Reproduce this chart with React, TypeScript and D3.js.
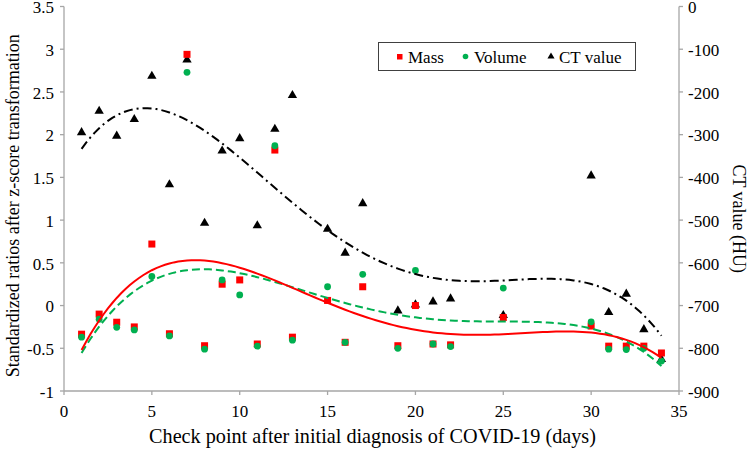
import React from 'react';
import * as d3 from 'd3';

const days = [1, 2, 3, 4, 5, 6, 7, 8, 9, 10, 11, 12, 13, 15, 16, 17, 19, 20, 21, 22, 25, 30, 31, 32, 33, 34];
const mass = [-0.335, -0.1, -0.195, -0.25, 0.72, -0.33, 2.94, -0.47, 0.25, 0.3, -0.45, 1.82, -0.37, 0.06, -0.43, 0.22, -0.47, 0.0, -0.45, -0.46, -0.14, -0.24, -0.475, -0.475, -0.475, -0.555];
const volume = [-0.37, -0.16, -0.255, -0.285, 0.34, -0.355, 2.73, -0.51, 0.3, 0.125, -0.475, 1.87, -0.405, 0.22, -0.43, 0.365, -0.5, 0.41, -0.45, -0.48, 0.205, -0.19, -0.51, -0.515, -0.5, -0.65];
const ctValue = [-295, -245, -303, -264, -163, -417, -125, -507, -338, -309, -513, -287, -208, -521, -577, -461, -712, -698, -691, -684, -723, -396, -716, -673, -756, -826];

const xTicks = [0, 5, 10, 15, 20, 25, 30, 35];
const leftTicks = [-1, -0.5, 0, 0.5, 1, 1.5, 2, 2.5, 3, 3.5];
const rightTicks = [-900, -800, -700, -600, -500, -400, -300, -200, -100, 0];

const FONT = '"Liberation Serif", "Times New Roman", serif';
const RED = '#ff0000';
const GREEN = '#00b050';
const AXIS = '#a6a6a6';

// least squares polynomial (same as an Excel trendline)
function polyFit(xs: number[], ys: number[], deg: number) {
  const n = deg + 1;
  const s = 34;
  const A: number[][] = Array.from({ length: n }, () => new Array(n + 1).fill(0));
  xs.forEach((xv, k) => {
    const x = xv / s;
    for (let i = 0; i < n; i++) {
      for (let j = 0; j < n; j++) A[i][j] += Math.pow(x, i + j);
      A[i][n] += ys[k] * Math.pow(x, i);
    }
  });
  for (let c = 0; c < n; c++) {
    let p = c;
    for (let r = c + 1; r < n; r++) if (Math.abs(A[r][c]) > Math.abs(A[p][c])) p = r;
    [A[c], A[p]] = [A[p], A[c]];
    for (let r = 0; r < n; r++) {
      if (r === c) continue;
      const f = A[r][c] / A[c][c];
      for (let k = c; k <= n; k++) A[r][k] -= f * A[c][k];
    }
  }
  const coef = A.map((row, i) => row[n] / row[i]);
  return (xv: number) => coef.reduce((acc, c, i) => acc + c * Math.pow(xv / s, i), 0);
}

const App = () => {
  const width = 750;
  const height = 449;
  const left = 64, right = 679, top = 6.5, bottom = 391;

  const x = d3.scaleLinear().domain([0, 35]).range([left, right]);
  const y = d3.scaleLinear().domain([-1, 3.5]).range([bottom, top]);
  const y2 = d3.scaleLinear().domain([-900, 0]).range([bottom, top]);

  const deg = 4;
  const fitMass = polyFit(days, mass, deg);
  const fitVol = polyFit(days, volume, deg);
  const fitCt = polyFit(days, ctValue, deg);
  const grid = d3.range(1, 34.001, 0.25);

  const lineL = d3.line<number>().x(d => x(d)).y(d => y(fitMass(d)));
  const lineV = d3.line<number>().x(d => x(d)).y(d => y(fitVol(d)));
  const lineC = d3.line<number>().x(d => x(d)).y(d => y2(fitCt(d)));

  const tri = d3.symbol().type(d3.symbolTriangle).size(38)();

  return (
    <svg width={width} height={height} style={{ position: 'absolute', left: 0, top: 0, background: '#fff' }} fontFamily={FONT}>
      <rect width={width} height={height} fill="#fff" />

      {/* axes */}
      <g stroke={AXIS} strokeWidth={1.3} fill="none">
        <line x1={left} x2={left} y1={top} y2={bottom} />
        <line x1={right} x2={right} y1={top} y2={bottom} />
        <line x1={left} x2={right} y1={bottom} y2={bottom} />
        {leftTicks.map(t => <line key={'l' + t} x1={left - 4} x2={left} y1={y(t)} y2={y(t)} />)}
        {rightTicks.map(t => <line key={'r' + t} x1={right} x2={right + 4} y1={y2(t)} y2={y2(t)} />)}
        {xTicks.map(t => <line key={'x' + t} x1={x(t)} x2={x(t)} y1={bottom} y2={bottom + 4} />)}
      </g>
      <g fontSize={17} fill="#000">
        {leftTicks.map(t => (
          <text key={'lt' + t} x={left - 10} y={y(t)} dy="0.4em" textAnchor="end">{String(t)}</text>
        ))}
        {rightTicks.map(t => (
          <text key={'rt' + t} x={right + 9} y={y2(t)} dy="0.4em" textAnchor="start">{String(t)}</text>
        ))}
        {xTicks.map(t => (
          <text key={'xt' + t} x={x(t)} y={417} textAnchor="middle">{String(t)}</text>
        ))}
      </g>
      <text x={(left + right) / 2 + 1} y={443} fontSize={20.2} textAnchor="middle">Check point after initial diagnosis of COVID-19 (days)</text>
      <text transform={`translate(19,${(top + bottom) / 2 + 7}) rotate(-90)`} fontSize={18} textAnchor="middle">Standardized ratios after z-score transformation</text>
      <text transform={`translate(733,${(top + bottom) / 2 + 20}) rotate(90)`} fontSize={18} textAnchor="middle">CT value (HU)</text>

      {/* points */}
      {days.map((d, i) => (
        <path key={'c' + i} d={tri} transform={`translate(${x(d)},${y2(ctValue[i])})`} fill="#000" />
      ))}
      {days.map((d, i) => (
        <rect key={'m' + i} x={x(d) - 3.5} y={y(mass[i]) - 3.5} width={7} height={7} fill={RED} />
      ))}
      {days.map((d, i) => (
        <circle key={'v' + i} cx={x(d)} cy={y(volume[i])} r={3.4} fill={GREEN} />
      ))}

      {/* trendlines */}
      <path d={lineC(grid) || ''} fill="none" stroke="#000" strokeWidth={2} strokeDasharray="9,4,2,4" />
      <path d={lineV(grid) || ''} fill="none" stroke={GREEN} strokeWidth={2} strokeDasharray="8,4" />
      <path d={lineL(grid) || ''} fill="none" stroke={RED} strokeWidth={2} />

      {/* legend */}
      <g>
        <rect x={378.5} y={42.5} width={257} height={28} fill="#fff" stroke="#404040" strokeWidth={1} />
        <rect x={397} y={54} width={5.5} height={5.5} fill={RED} />
        <text x={408} y={62.5} fontSize={17}>Mass</text>
        <circle cx={465.5} cy={56.5} r={2.8} fill={GREEN} />
        <text x={474} y={62.5} fontSize={17}>Volume</text>
        <path d={d3.symbol().type(d3.symbolTriangle).size(22)() || ''} transform="translate(551,56.5)" fill="#000" />
        <text x={559} y={62.5} fontSize={17}>CT value</text>
      </g>
    </svg>
  );
};

export default App;
